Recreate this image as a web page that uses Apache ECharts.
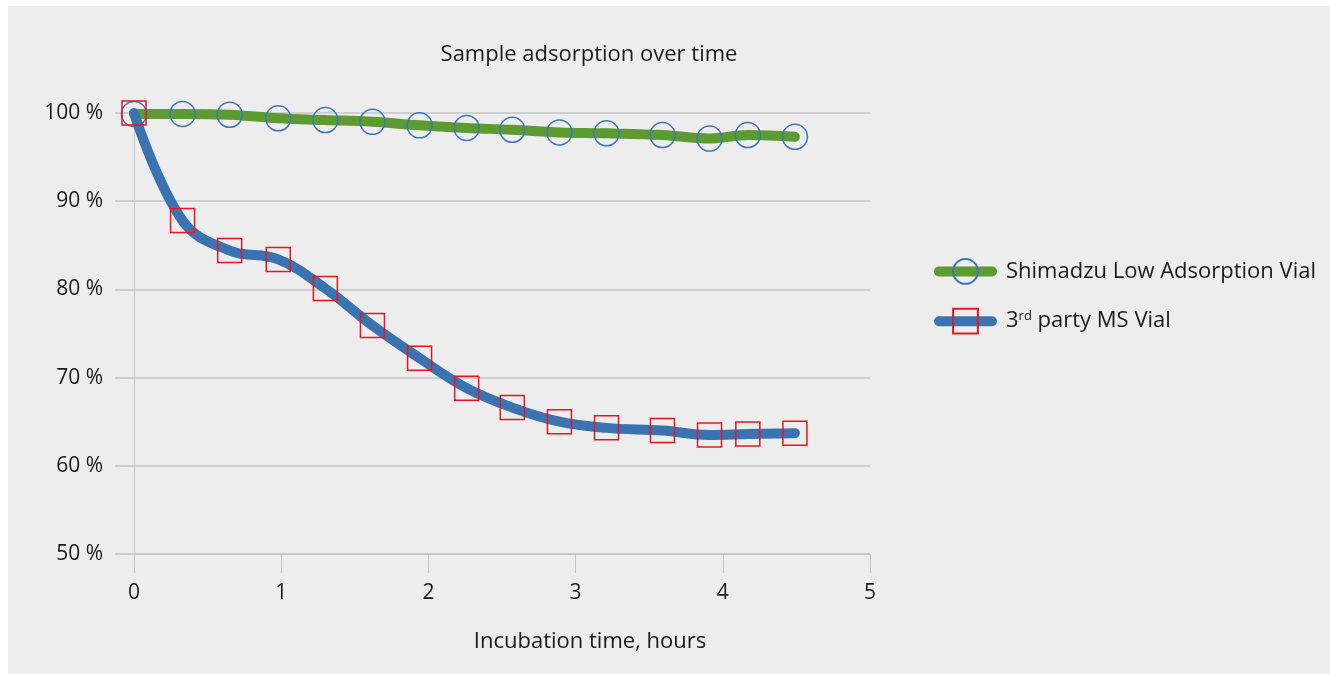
<!DOCTYPE html>
<html>
<head>
<meta charset="utf-8">
<script src="https://cdn.jsdelivr.net/npm/echarts@6/dist/echarts.min.js"></script>
<style>
html,body{margin:0;padding:0;background:#ffffff;}
#panel{position:absolute;left:8px;top:6px;width:1322px;height:668px;background:#ededed;}
#chart{position:absolute;left:0;top:0;width:1330px;height:674px;}
</style>
</head>
<body>
<div id="panel"></div>
<div id="chart"></div>
<script>
const hours = [0, 0.33, 0.65, 0.98, 1.30, 1.62, 1.94, 2.26, 2.57, 2.89, 3.21, 3.59, 3.91, 4.17, 4.49];
const shimadzu = [99.9, 99.9, 99.8, 99.4, 99.2, 99.0, 98.6, 98.3, 98.1, 97.8, 97.7, 97.5, 97.1, 97.5, 97.3];
const thirdParty = [100.0, 87.8, 84.4, 83.4, 80.1, 75.9, 72.2, 68.8, 66.6, 65.0, 64.3, 64.0, 63.5, 63.6, 63.7];
const seriesNames = ['Shimadzu Low Adsorption Vial', '3rd party MS Vial'];
const titleText = 'Sample adsorption over time';
const xAxisTitle = 'Incubation time, hours';

const FONT = '"Open Sans", "Noto Sans", sans-serif';
const chart = echarts.init(document.getElementById('chart'), null, {renderer: 'canvas'});
const pairs = (ys) => hours.map((h, i) => [h, ys[i]]);

chart.setOption({
  backgroundColor: 'transparent',
  animation: false,
  title: [
    {text: titleText, left: 589, top: 44, textAlign: 'center', padding: 0,
     textStyle: {fontFamily: FONT, fontSize: 22, fontWeight: 'normal', color: '#1a1a1a'}},
    {text: xAxisTitle, left: 590, top: 631, textAlign: 'center', padding: 0,
     textStyle: {fontFamily: FONT, fontSize: 22, fontWeight: 'normal', color: '#1a1a1a'}}
  ],
  grid: {left: 134, right: 460, top: 113, bottom: 120, containLabel: false},
  legend: {
    orient: 'vertical', left: 929, top: 253, itemWidth: 53, itemHeight: 31, itemGap: 23,
    data: seriesNames,
    lineStyle: {width: 10, cap: 'round'},
    textStyle: {fontFamily: FONT, fontSize: 22, color: '#1a1a1a', padding: [0, 0, 0, 9],
      rich: {sup: {fontFamily: FONT, fontSize: 13, verticalAlign: 'top', padding: [0, 0, 9, 0], color: '#1a1a1a'},
             n: {fontFamily: FONT, fontSize: 22, color: '#1a1a1a'}}},
    formatter: function (name) {
      if (name === seriesNames[1]) return '{n|3}{sup|rd}{n| party MS Vial}';
      return name;
    }
  },
  xAxis: {
    type: 'value', min: 0, max: 5, interval: 1,
    axisLine: {show: true, onZero: false, lineStyle: {color: '#c4c4c4', width: 1.5}},
    axisTick: {show: true, length: 19, lineStyle: {color: '#c4c4c4', width: 1}},
    splitLine: {show: false},
    axisLabel: {margin: 29, fontFamily: FONT, fontSize: 21, color: '#1a1a1a'}
  },
  yAxis: {
    type: 'value', min: 50, max: 100, interval: 10,
    axisLine: {show: true, lineStyle: {color: '#c4c4c4', width: 1}},
    axisTick: {show: true, length: 19, lineStyle: {color: '#c4c4c4', width: 1.5}},
    splitLine: {show: true, lineStyle: {color: '#c4c4c4', width: 1.5}},
    axisLabel: {margin: 31, fontFamily: FONT, fontSize: 21, color: '#1a1a1a', formatter: '{value} %'}
  },
  series: [
    {
      name: seriesNames[0], type: 'line', data: pairs(shimadzu), smooth: 0.4,
      symbol: 'circle', symbolSize: 25, showSymbol: true, z: 2,
      lineStyle: {color: '#5c9b32', width: 10, cap: 'round', join: 'round'},
      itemStyle: {color: 'rgba(0,0,0,0)', borderColor: '#3f76ba', borderWidth: 1.5},
      emphasis: {disabled: true}
    },
    {
      name: seriesNames[1], type: 'line', data: pairs(thirdParty), smooth: 0.4,
      symbol: 'rect', symbolSize: 24, showSymbol: true, z: 3,
      lineStyle: {color: '#3b73b0', width: 10, cap: 'round', join: 'round'},
      itemStyle: {color: 'rgba(0,0,0,0)', borderColor: '#ea1420', borderWidth: 1.5},
      emphasis: {disabled: true}
    }
  ]
});
</script>
</body>
</html>
